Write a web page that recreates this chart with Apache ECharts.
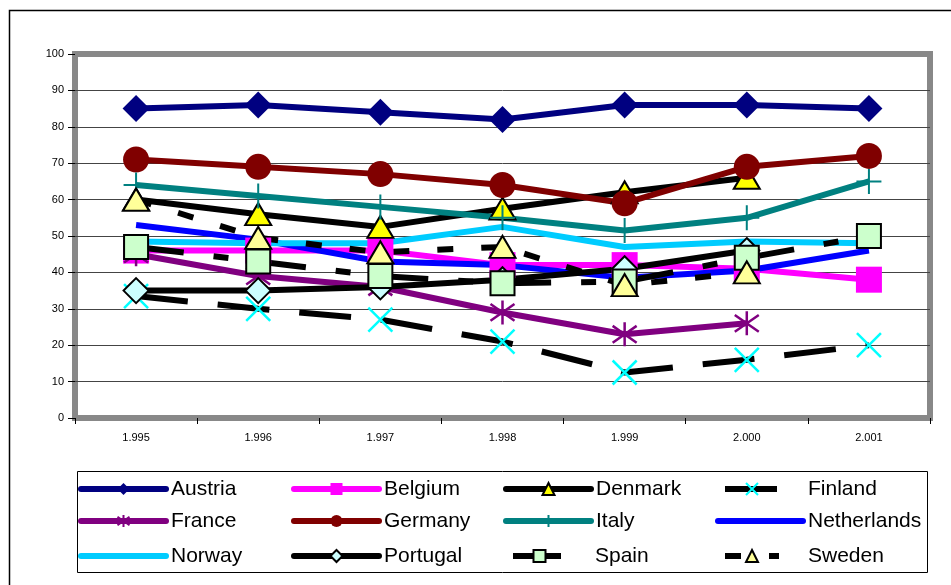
<!DOCTYPE html>
<html>
<head>
<meta charset="utf-8">
<script src="https://cdn.jsdelivr.net/npm/echarts@6/dist/echarts.min.js"></script>
<style>html,body{margin:0;padding:0;background:#fff}#c{width:951px;height:585px}</style>
</head>
<body>
<div id="c"></div>
<script>
const categories = ['1.995', '1.996', '1.997', '1.998', '1.999', '2.000', '2.001'];
const yTicks = [0, 10, 20, 30, 40, 50, 60, 70, 80, 90, 100];

const austria     = [85, 86, 84, 82, 86, 86, 85];
const belgium     = [46, 46, 46, 42, 42, 41, 38];
const denmark     = [60, 56, 52.5, 57.5, 62, 66, null];
const finland     = [33.5, 30, 27, 21, 12.5, 16, 20];
const france      = [45, 39, 36, 29, 23, 26, null];
const germany     = [71, 69, 67, 64, 59, 69, 72];
const italy       = [64, 61, 58, 55, 51.5, 55, 65];
const netherlands = [53, 49, 43, 42, 38.5, 40.5, 46];
const norway      = [48.5, 48, 48, 52.5, 47, 48.5, 48];
const portugal    = [35, 35, 36, 38, 41, 46, null];
const spain       = [47, 43, 39, 37, 37.5, 44, 50];
const sweden      = [60, 49.5, 45.5, 47, 36.5, 40, null];

const FONT = '"Liberation Sans", Arial, sans-serif';
const X_PATH = 'path://M0,0L10,10M10,0L0,10';
const AST_PATH = 'path://M5,0L5,10M0,1.5L10,8.5M10,1.5L0,8.5';
const PLUS_PATH = 'path://M5,0L5,10M1,5L9,5';

function mk(name, data, color, opts) {
  return Object.assign({
    name: name, type: 'line', data: data,
    lineStyle: { color: color, width: 6, type: 'solid' },
    itemStyle: { color: color },
    symbol: 'none', symbolSize: 24,
    showSymbol: true,
    emphasis: { disabled: true },
    animation: false
  }, opts || {});
}

const series = [
  mk('Austria', austria, '#000080', { symbol: 'diamond', symbolSize: 27 }),
  mk('Belgium', belgium, '#FF00FF', { symbol: 'rect', symbolSize: 26 }),
  mk('Denmark', denmark, '#000000', { symbol: 'triangle', symbolSize: [26, 22],
      itemStyle: { color: '#FFFF00', borderColor: '#000', borderWidth: 2 } }),
  mk('Finland', finland, '#000000', { symbol: X_PATH, symbolSize: 24,
      lineStyle: { color: '#000', width: 6, type: [52, 30] },
      itemStyle: { color: 'rgba(0,0,0,0)', borderColor: '#00FFFF', borderWidth: 2.5 } }),
  mk('France', france, '#800080', { symbol: AST_PATH, symbolSize: 24,
      itemStyle: { color: 'rgba(0,0,0,0)', borderColor: '#800080', borderWidth: 2.5 } }),
  mk('Germany', germany, '#800000', { symbol: 'circle', symbolSize: 26 }),
  mk('Italy', italy, '#008080', { symbol: PLUS_PATH, symbolSize: 25,
      itemStyle: { color: 'rgba(0,0,0,0)', borderColor: '#008080', borderWidth: 2 } }),
  mk('Netherlands', netherlands, '#0000FF', { symbol: 'none' }),
  mk('Norway', norway, '#00CCFF', { symbol: 'none' }),
  mk('Portugal', portugal, '#000000', { symbol: 'diamond', symbolSize: 25,
      itemStyle: { color: '#CCFFFF', borderColor: '#000', borderWidth: 2 } }),
  mk('Spain', spain, '#000000', { symbol: 'rect', symbolSize: 24,
      lineStyle: { color: '#000', width: 6, type: [48, 30, 15, 30] },
      itemStyle: { color: '#CCFFCC', borderColor: '#000', borderWidth: 2 } }),
  mk('Sweden', sweden, '#000000', { symbol: 'triangle', symbolSize: [26, 22],
      lineStyle: { color: '#000', width: 6, type: [16, 28] },
      itemStyle: { color: '#FFFF99', borderColor: '#000', borderWidth: 2 } })
];

// legend positions (layout only): left, top, itemWidth, text pad, hide symbol, line cap
const legendPos = {
  'Austria':     [78, 478, 85, 0, false, 'round'],
  'Belgium':     [291, 478, 85, 0, false, 'round'],
  'Denmark':     [503, 478, 85, 0, false, 'round'],
  'Finland':     [722, 478, 54, 24, false, 'butt'],
  'France':      [78, 510, 85, 0, false, 'round'],
  'Germany':     [291, 510, 85, 0, false, 'round'],
  'Italy':       [503, 510, 85, 0, false, 'round'],
  'Netherlands': [715, 510, 85, 0, true, 'round'],
  'Norway':      [78, 545, 85, 0, true, 'round'],
  'Portugal':    [291, 545, 85, 0, false, 'round'],
  'Spain':       [510, 545, 53, 24, false, 'butt'],
  'Sweden':      [722, 545, 54, 24, false, 'butt']
};
const legends = Object.keys(legendPos).map(function (n) {
  const p = legendPos[n];
  const l = {
    data: [n], left: p[0], top: p[1], orient: 'horizontal',
    itemWidth: p[2], itemHeight: 15, itemGap: 0, padding: 0,
    selectedMode: false,
    lineStyle: { width: 6, cap: p[5] },
    textStyle: { fontFamily: FONT, fontSize: 21, color: '#000', lineHeight: 22,
                 padding: [0, 0, 0, p[3]] }
  };
  if (p[4]) l.itemStyle = { opacity: 0 };
  return l;
});

const chart = echarts.init(document.getElementById('c'), null, { renderer: 'canvas' });
chart.setOption({
  animation: false,
  backgroundColor: '#fff',
  grid: { left: 75, right: 21, top: 54, bottom: 167, show: true,
          borderColor: '#888888', borderWidth: 6, backgroundColor: 'transparent' },
  xAxis: {
    type: 'category', data: categories, boundaryGap: true,
    axisLine: { show: false },
    axisTick: { show: true, length: 6, lineStyle: { color: '#000', width: 1 } },
    axisLabel: { fontFamily: FONT, fontSize: 11, color: '#000', margin: 14 },
    splitLine: { show: false }
  },
  yAxis: {
    type: 'value', min: yTicks[0], max: yTicks[yTicks.length - 1], interval: 10,
    axisLine: { show: false },
    axisTick: { show: true, length: 7, lineStyle: { color: '#000', width: 1 } },
    axisLabel: { fontFamily: FONT, fontSize: 11, color: '#000', margin: 11 },
    splitLine: { show: true, showMinLine: false, showMaxLine: false,
                 lineStyle: { color: '#444', width: 1 } }
  },
  legend: legends,
  graphic: [
    { type: 'rect', shape: { x: 9.5, y: 10.5, width: 1200, height: 1200 },
      style: { fill: 'none', stroke: '#000', lineWidth: 1.5 }, silent: true, z: -10 },
    { type: 'rect', shape: { x: 77.5, y: 471.5, width: 850, height: 101 },
      style: { fill: 'none', stroke: '#000', lineWidth: 1 }, silent: true }
  ],
  series: series
});
</script>
</body>
</html>
